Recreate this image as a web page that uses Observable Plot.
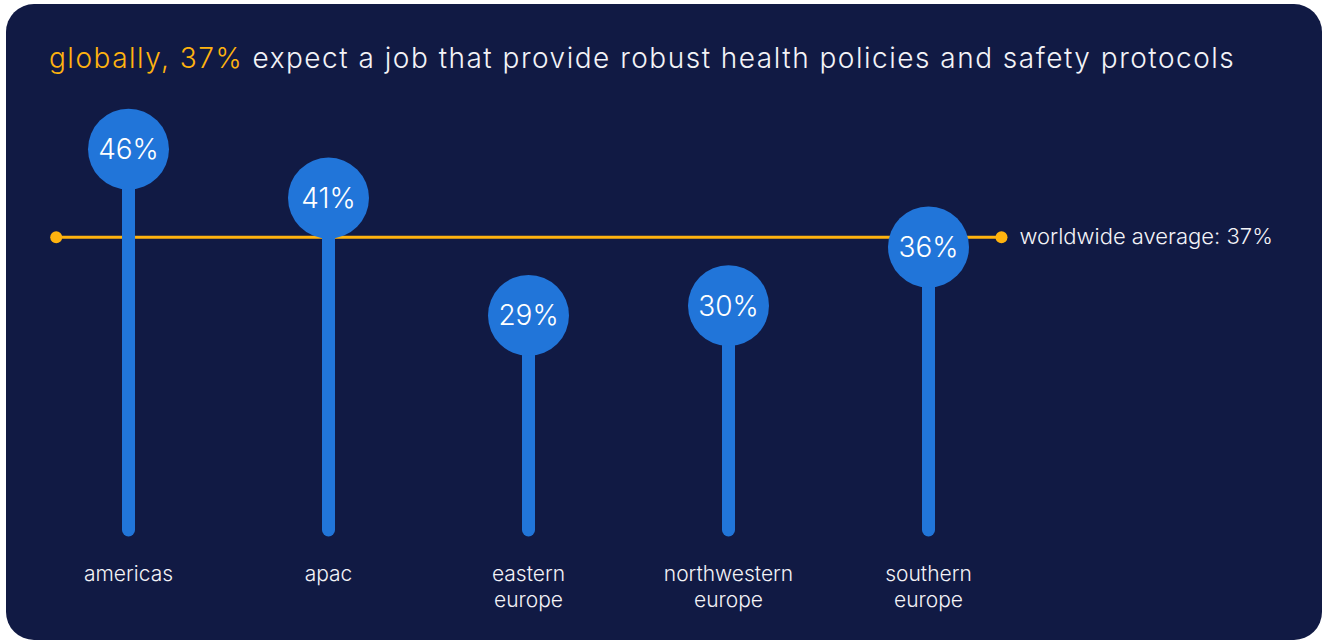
<!DOCTYPE html>
<html>
<head>
<meta charset="utf-8">
<script src="https://cdn.jsdelivr.net/npm/d3@7"></script>
<script src="https://cdn.jsdelivr.net/npm/@observablehq/plot@0.6"></script>
<style>
  html, body { margin: 0; padding: 0; background: #ffffff; }
  #page { position: relative; width: 1324px; height: 642px; overflow: hidden; font-family: Inter, "Noto Sans", sans-serif; }
  #card { position: absolute; left: 6px; top: 4px; width: 1316px; height: 636px; background: #111a44; border-radius: 28px; }
  #content { position: absolute; left: 0; top: 0; width: 1324px; height: 642px; }
  #title { height: 100px; box-sizing: border-box; padding-top: 42px; padding-left: 49px; font-size: 28px; line-height: 32px; font-weight: 300; letter-spacing: 1.5px; color: #f3f3f7; white-space: nowrap; }
  #title .hl { color: #ffb30f; }
  #chart svg { display: block; background: transparent; }
</style>
</head>
<body>
<div id="page">
  <div id="card"></div>
  <div id="content">
    <div id="title"><span class="hl">globally, 37%</span> expect a job that provide robust health policies and safety protocols</div>
    <div id="chart"></div>
  </div>
</div>
<script>
// ---- data ----
const regions = ["americas", "apac", "eastern europe", "northwestern europe", "southern europe"];
const regionLabels = ["americas", "apac", "eastern\neurope", "northwestern\neurope", "southern\neurope"];
const values = [46, 41, 29, 30, 36];
const worldwideAverage = 37;
const averageLabel = "worldwide average: 37%";

// ---- styles ----
const blue = "#2175d9";
const orange = "#ffb30f";
const white = "#f3f3f7";
const stemBase = 7; // lower end of the value scale where stems start

const data = regions.map((r, i) => ({region: r, value: values[i]}));
const labelOf = new Map(regions.map((r, i) => [r, regionLabels[i]]));

const chart = Plot.plot({
  width: 1324,
  height: 542,
  marginLeft: 55.7,
  marginRight: 323,
  marginTop: 48.7,
  marginBottom: 112,
  style: {background: "transparent", fontFamily: "Inter, 'Noto Sans', sans-serif", color: white, overflow: "visible"},
  x: {type: "point", domain: regions, padding: 0.363},
  y: {domain: [stemBase, 46], axis: null},
  marks: [
    Plot.ruleY([worldwideAverage], {y: d => d, stroke: orange, strokeWidth: 3}),
    Plot.dot([worldwideAverage], {y: d => d, frameAnchor: "left", r: 6, fill: orange, stroke: "none"}),
    Plot.dot([worldwideAverage], {y: d => d, frameAnchor: "right", r: 6, fill: orange, stroke: "none"}),
    Plot.text([averageLabel], {y: () => worldwideAverage, text: d => d, frameAnchor: "right", textAnchor: "start", dx: 18, fill: white, fontSize: 22, fontWeight: 300, style: "letter-spacing: 1.4px"}),
    Plot.ruleX(data, {x: "region", y1: () => stemBase, y2: "value", stroke: blue, strokeWidth: 13, strokeLinecap: "round"}),
    Plot.dot(data, {x: "region", y: "value", r: 40.5, fill: blue, stroke: "none"}),
    Plot.text(data, {x: "region", y: "value", text: d => d.value + "%", fill: "#ffffff", fontSize: 28, fontWeight: 300, dy: 1}),
    Plot.axisX({tickSize: 0, tickPadding: 32, tickFormat: d => labelOf.get(d), fontSize: 21, fontWeight: 300, lineHeight: 1.24, fill: white, label: null})
  ]
});
document.getElementById("chart").appendChild(chart);
</script>
</body>
</html>
